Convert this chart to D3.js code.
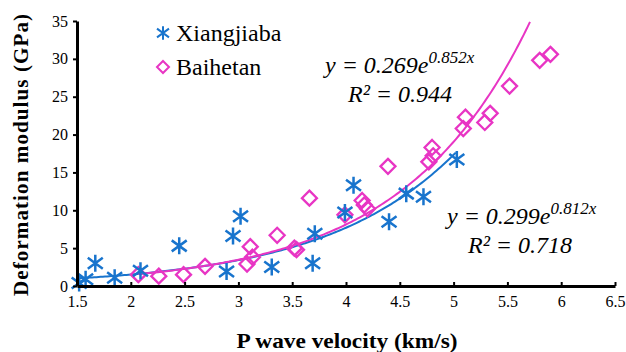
<!DOCTYPE html>
<html>
<head>
<meta charset="utf-8">
<script src="https://cdn.jsdelivr.net/npm/d3@7"></script>
<style>
  body { margin: 0; background: #fff; }
</style>
</head>
<body>
<svg id="chart" width="626" height="352"></svg>
<script>
// Xiangjiaba samples
const xjVelocity = [1.52, 1.58, 1.67, 1.85, 2.09, 2.45, 2.89, 2.95, 3.02, 3.31, 3.69, 3.71, 3.99, 4.07, 4.40, 4.56, 4.72, 5.03];
const xjModulus  = [0.4, 0.9, 3.0, 1.1, 2.0, 5.3, 1.9, 6.6, 9.2, 2.5, 3.0, 6.9, 9.7, 13.3, 8.5, 12.2, 11.8, 16.7];

// Baihetan samples
const bhVelocity = [2.07, 2.26, 2.49, 2.69, 3.08, 3.13, 3.11, 3.36, 3.52, 3.54, 3.66, 3.99, 4.15, 4.17, 4.20, 4.39, 4.77, 4.81, 4.80, 5.09, 5.11, 5.29, 5.34, 5.52, 5.80, 5.90];
const bhModulus  = [1.5, 1.3, 1.5, 2.6, 2.9, 3.8, 5.2, 6.7, 5.0, 4.8, 11.6, 9.4, 11.3, 10.7, 10.2, 15.8, 16.4, 17.2, 18.3, 20.8, 22.3, 21.6, 22.8, 26.4, 29.8, 30.6];

// exponential trend lines y = a*e^(b*x)
const xjFit = [0.299, 0.812];
const bhFit = [0.269, 0.852];

const xTicks = [1.5, 2, 2.5, 3, 3.5, 4, 4.5, 5, 5.5, 6, 6.5];
const yTicks = [0, 5, 10, 15, 20, 25, 30, 35];

const blue = '#1874CD', pink = '#E835C4';
const serif = 'Liberation Serif, DejaVu Serif';

const svg = d3.select('#chart').attr('font-family', serif);
const x = d3.scaleLinear().domain([1.5, 6.5]).range([77, 615]);
const y = d3.scaleLinear().domain([0, 35]).range([286, 21]);

// trend lines
function trend(fit, x0, x1) {
  const pts = [];
  for (let v = x0; v <= x1 + 1e-9; v += 0.02) pts.push([v, fit[0] * Math.exp(fit[1] * v)]);
  return pts;
}
const line = d3.line().x(d => x(d[0])).y(d => y(d[1]));
const bhEnd = Math.log(35 / bhFit[0]) / bhFit[1];

svg.append('path')
  .attr('d', line(trend(xjFit, d3.min(xjVelocity), d3.max(xjVelocity))))
  .attr('fill', 'none').attr('stroke', blue).attr('stroke-width', 2);
svg.append('path')
  .attr('d', line(trend(bhFit, d3.min(bhVelocity), bhEnd)))
  .attr('fill', 'none').attr('stroke', pink).attr('stroke-width', 2);

// markers
const star = 'M0,-8.5L0,8.5M-7.5,-5.5L7.5,5.5M-7.5,5.5L7.5,-5.5';
const diamond = 'M0,-7.5L7.5,0L0,7.5L-7.5,0Z';

svg.append('g').selectAll('path')
  .data(d3.zip(bhVelocity, bhModulus))
  .enter().append('path')
  .attr('d', diamond)
  .attr('transform', d => `translate(${x(d[0])},${y(d[1])})`)
  .attr('fill', 'none').attr('stroke', pink).attr('stroke-width', 2.3);

svg.append('g').selectAll('path')
  .data(d3.zip(xjVelocity, xjModulus))
  .enter().append('path')
  .attr('d', star)
  .attr('transform', d => `translate(${x(d[0])},${y(d[1])})`)
  .attr('fill', 'none').attr('stroke', blue).attr('stroke-width', 2.5);

// axes
const xAxis = svg.append('g')
  .attr('transform', 'translate(0,286)')
  .call(d3.axisBottom(x).tickValues(xTicks).tickSize(-4).tickPadding(10).tickSizeOuter(0).tickFormat(d3.format('')));
const yAxis = svg.append('g')
  .attr('transform', 'translate(77,0)')
  .call(d3.axisLeft(y).tickValues(yTicks).tickSize(4).tickPadding(5).tickSizeOuter(0));

[xAxis, yAxis].forEach(a => {
  a.attr('font-family', serif).attr('font-size', 16);
  a.select('.domain').attr('stroke', '#000').attr('stroke-width', 3);
  a.selectAll('.tick line').attr('stroke', '#000').attr('stroke-width', 2);
  a.selectAll('.tick text').attr('fill', '#000');
});

// axis titles
svg.append('text')
  .attr('x', 347).attr('y', 348)
  .attr('text-anchor', 'middle')
  .attr('textLength', 221).attr('lengthAdjust', 'spacingAndGlyphs')
  .attr('font-size', 22).attr('font-weight', 'bold')
  .text('P wave velocity (km/s)');
svg.append('text')
  .attr('transform', 'translate(28,155) rotate(-90)')
  .attr('text-anchor', 'middle')
  .attr('textLength', 282).attr('lengthAdjust', 'spacing')
  .attr('font-size', 21).attr('font-weight', 'bold')
  .text('Deformation  modulus (GPa)');

// legend
const legend = [['Xiangjiaba', star, blue, 33], ['Baihetan', diamond, pink, 67]];
legend.forEach(([name, shape, col, ly]) => {
  svg.append('path').attr('d', shape)
    .attr('transform', `translate(163,${ly}) scale(0.8)`)
    .attr('fill', 'none').attr('stroke', col).attr('stroke-width', 2.5);
  svg.append('text').attr('x', 176).attr('y', ly + 8)
    .attr('font-size', 24).text(name);
});

// equations
function equation(ex, ey, a, b, r2, rx) {
  const t = svg.append('text').attr('x', ex).attr('y', ey)
    .attr('font-size', 24).attr('font-style', 'italic');
  t.append('tspan').text(`y = ${a}e`);
  t.append('tspan').attr('dy', -10).attr('font-size', 17).text(`${b}x`);
  svg.append('text').attr('x', rx).attr('y', ey + 29)
    .attr('font-size', 24).attr('font-style', 'italic')
    .text(`R² = ${r2}`);
}
equation(325, 73, bhFit[0], bhFit[1], '0.944', 348);
equation(447, 224, xjFit[0], xjFit[1], '0.718', 468);
</script>
</body>
</html>
